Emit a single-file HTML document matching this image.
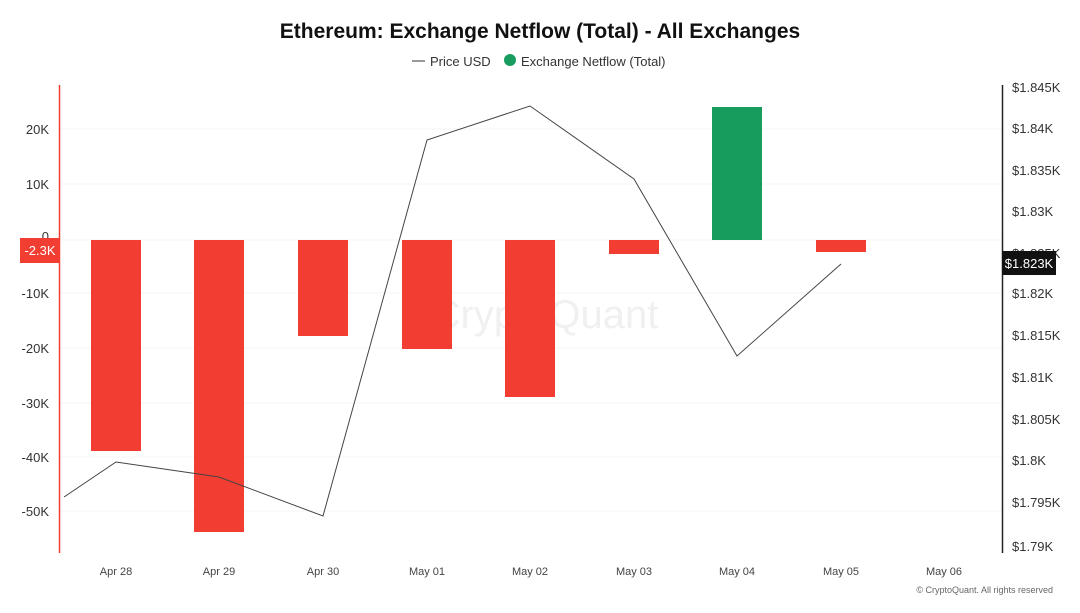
<!DOCTYPE html>
<html><head><meta charset="utf-8"><style>
body{margin:0;background:#fff;font-family:"Liberation Sans",sans-serif;}
</style></head><body>
<svg width="1080" height="608" xmlns="http://www.w3.org/2000/svg" font-family="Liberation Sans, sans-serif">
<rect width="1080" height="608" fill="#fff"/>
<text x="540" y="38" text-anchor="middle" font-size="21" font-weight="bold" fill="#111">Ethereum: Exchange Netflow (Total) - All Exchanges</text>
<line x1="412" y1="61" x2="425" y2="61" stroke="#333" stroke-width="1"/>
<text x="430" y="66" font-size="13" fill="#333">Price USD</text>
<circle cx="510" cy="60" r="6" fill="#179c5e"/>
<text x="521" y="66" font-size="13" fill="#333">Exchange Netflow (Total)</text>
<g stroke="#f6f6f6" stroke-width="1">
<line x1="60" y1="129" x2="1002" y2="129"/><line x1="60" y1="184" x2="1002" y2="184"/>
<line x1="60" y1="240" x2="1002" y2="240"/><line x1="60" y1="293" x2="1002" y2="293"/>
<line x1="60" y1="348" x2="1002" y2="348"/><line x1="60" y1="403" x2="1002" y2="403"/>
<line x1="60" y1="457" x2="1002" y2="457"/><line x1="60" y1="511" x2="1002" y2="511"/>
</g>
<text x="545" y="328" text-anchor="middle" font-size="40" fill="#f0f0f0">CryptoQuant</text>
<g font-size="13" fill="#333" text-anchor="end">
<text x="49" y="134">20K</text><text x="49" y="189">10K</text><text x="49" y="241">0</text>
<text x="49" y="298">-10K</text><text x="49" y="353">-20K</text><text x="49" y="408">-30K</text>
<text x="49" y="462">-40K</text><text x="49" y="516">-50K</text>
</g>
<g font-size="13" fill="#333">
<text x="1012" y="92">$1.845K</text><text x="1012" y="133">$1.84K</text><text x="1012" y="175">$1.835K</text>
<text x="1012" y="216">$1.83K</text><text x="1012" y="258">$1.825K</text><text x="1012" y="298">$1.82K</text><text x="1012" y="340">$1.815K</text>
<text x="1012" y="382">$1.81K</text><text x="1012" y="424">$1.805K</text><text x="1012" y="465">$1.8K</text>
<text x="1012" y="507">$1.795K</text><text x="1012" y="551">$1.79K</text>
</g>
<g fill="#f23d33">
<rect x="91" y="240" width="50" height="211"/><rect x="194" y="240" width="50" height="292"/>
<rect x="298" y="240" width="50" height="96"/><rect x="402" y="240" width="50" height="109"/>
<rect x="505" y="240" width="50" height="157"/><rect x="609" y="240" width="50" height="14"/>
<rect x="816" y="240" width="50" height="12"/>
</g>
<rect x="712" y="107" width="50" height="133" fill="#179c5e"/>
<polyline fill="none" stroke="#444" stroke-width="1" points="64,497 116,462 219,477 323,516 427,140 530,106 634,179 737,356 841,264"/>
<line x1="59.5" y1="85" x2="59.5" y2="553" stroke="#f23d33" stroke-width="1.5"/>
<line x1="1002.5" y1="85" x2="1002.5" y2="553" stroke="#222" stroke-width="1.5"/>
<rect x="20" y="238" width="39" height="25" fill="#f23d33"/>
<text x="40" y="255" text-anchor="middle" font-size="13" fill="#fff">-2.3K</text>
<rect x="1002" y="251" width="54" height="24" fill="#111"/>
<text x="1029" y="268" text-anchor="middle" font-size="13" fill="#fff">$1.823K</text>
<g font-size="11" fill="#444" text-anchor="middle">
<text x="116" y="575">Apr 28</text><text x="219" y="575">Apr 29</text><text x="323" y="575">Apr 30</text>
<text x="427" y="575">May 01</text><text x="530" y="575">May 02</text><text x="634" y="575">May 03</text>
<text x="737" y="575">May 04</text><text x="841" y="575">May 05</text><text x="944" y="575">May 06</text>
</g>
<text x="1053" y="593" text-anchor="end" font-size="9" fill="#666">© CryptoQuant. All rights reserved</text>
</svg>
</body></html>
